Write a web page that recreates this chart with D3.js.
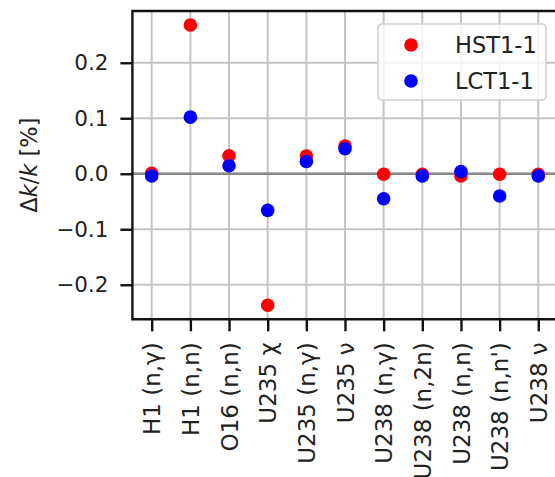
<!DOCTYPE html>
<html>
<head>
<meta charset="utf-8">
<script src="https://cdn.jsdelivr.net/npm/d3@7"></script>
<style>
	body { margin: 0; background: #fff; }
	text { font-family: 'DejaVu Sans', sans-serif; fill: #222; }
</style>
</head>
<body>
<div id="chart"></div>
<script>
/* global d3 */

var categories = [
	"H1 (n,γ)", "H1 (n,n)", "O16 (n,n)", "U235 χ", "U235 (n,γ)", "U235 ν",
	"U238 (n,γ)", "U238 (n,2n)", "U238 (n,n)", "U238 (n,n')", "U238 ν"
];

var hstValues = [0.001, 0.268, 0.0325, -0.237, 0.032, 0.050, -0.001, -0.001, -0.004, -0.001, -0.001];
var lctValues = [-0.004, 0.102, 0.0145, -0.066, 0.022, 0.045, -0.045, -0.004, 0.004, -0.040, -0.004];

var seriesNames = ["HST1-1", "LCT1-1"];
var seriesColors = ["#ff0000", "#0000ff"];

var yTicks = [-0.2, -0.1, 0.0, 0.1, 0.2];


var CHART = {};

CHART.width = 555;
CHART.height = 477;

CHART.font = {
	yTick: 21.5,
	xTick: 23,
	label: 22.5,
	legend: 22.5
};

CHART.axes = {
	left: 132.4,
	right: 557.6,
	top: 11,
	bottom: 319.3
};

CHART.svg = d3.select('#chart')
  .append('svg')
	.attr('width', CHART.width)
	.attr('height', CHART.height);

// matplotlib style 5% margins around the data
var all = hstValues.concat(lctValues);
var yMin = d3.min(all), yMax = d3.max(all);
var yPad = (yMax - yMin) * 0.05;

CHART.x = d3.scalePoint()
	.domain(categories)
	.range([CHART.axes.left, CHART.axes.right])
	.padding(0.5);

CHART.y = d3.scaleLinear()
	.domain([yMin - yPad, yMax + yPad])
	.range([CHART.axes.bottom, CHART.axes.top]);

var plot = CHART.svg.append('g');

//* GRID
plot.append('g')
	.selectAll('line.vgrid')
	.data(categories)
	.enter().append('line')
	.attr('x1', function(d){ return CHART.x(d); })
	.attr('x2', function(d){ return CHART.x(d); })
	.attr('y1', CHART.axes.top)
	.attr('y2', CHART.axes.bottom)
	.attr('stroke', '#c4c4c4')
	.attr('stroke-width', 2);

plot.append('g')
	.selectAll('line.hgrid')
	.data(yTicks)
	.enter().append('line')
	.attr('x1', CHART.axes.left)
	.attr('x2', CHART.axes.right)
	.attr('y1', function(d){ return CHART.y(d); })
	.attr('y2', function(d){ return CHART.y(d); })
	.attr('stroke', '#c4c4c4')
	.attr('stroke-width', 2);

//* ZERO LINE
plot.append('line')
	.attr('x1', CHART.axes.left)
	.attr('x2', CHART.axes.right)
	.attr('y1', CHART.y(0))
	.attr('y2', CHART.y(0))
	.attr('stroke', '#888')
	.attr('stroke-width', 2.5);

//* POINTS
[hstValues, lctValues].forEach(function(values, s){
	plot.append('g')
		.selectAll('circle')
		.data(values)
		.enter().append('circle')
		.attr('cx', function(d, i){ return CHART.x(categories[i]); })
		.attr('cy', function(d){ return CHART.y(d); })
		.attr('r', 6.8)
		.attr('fill', seriesColors[s]);
});

//* AXES
var yAxis = d3.axisLeft(CHART.y)
	.tickValues(yTicks)
	.tickSize(12)
	.tickPadding(12)
	.tickFormat(function(d){ return d3.format('.1f')(d).replace('-', '\u2212'); });

var gy = CHART.svg.append('g')
	.attr('transform', 'translate(' + CHART.axes.left + ',0)')
	.call(yAxis);

var xAxis = d3.axisBottom(CHART.x)
	.tickSize(12)
	.tickPadding(11);

var gx = CHART.svg.append('g')
	.attr('transform', 'translate(0,' + CHART.axes.bottom + ')')
	.call(xAxis);

[gx, gy].forEach(function(g){
	g.select('.domain').remove();
	g.selectAll('.tick line').attr('stroke', '#111').attr('stroke-width', 2.4);
	g.selectAll('.tick text')
		.attr('font-family', 'DejaVu Sans')
		.style('fill', '#222');
});

gy.selectAll('.tick text').attr('font-size', CHART.font.yTick);

gx.selectAll('.tick text')
	.attr('font-size', CHART.font.xTick)
	.attr('transform', 'rotate(-90)')
	.attr('x', -23)
	.attr('y', 0)
	.attr('dy', '0.35em')
	.style('text-anchor', 'end');

// spines
CHART.svg.append('path')
	.attr('d', 'M' + CHART.axes.right + ',' + CHART.axes.top +
		'H' + CHART.axes.left + 'V' + CHART.axes.bottom + 'H' + CHART.axes.right + 'V' + CHART.axes.top)
	.attr('fill', 'none')
	.attr('stroke', '#111')
	.attr('stroke-width', 2.4);

//* Y LABEL
var ylab = CHART.svg.append('text')
	.attr('transform', 'translate(37,' + ((CHART.axes.top + CHART.axes.bottom) / 2) + ') rotate(-90)')
	.attr('font-size', CHART.font.label)
	.style('text-anchor', 'middle');

ylab.append('tspan').text('Δ');
ylab.append('tspan').style('font-style', 'italic').text('k');
ylab.append('tspan').text('/');
ylab.append('tspan').style('font-style', 'italic').text('k');
ylab.append('tspan').text(' [%]');

//* LEGEND
var legend = CHART.svg.append('g')
	.attr('transform', 'translate(378,24)');

legend.append('rect')
	.attr('width', 168)
	.attr('height', 76)
	.attr('rx', 4)
	.attr('fill', '#fff')
	.attr('fill-opacity', 0.8)
	.attr('stroke', '#d0d0d0')
	.attr('stroke-width', 1.6);

seriesNames.forEach(function(name, i){

	legend.append('circle')
		.attr('cx', 33)
		.attr('cy', 21 + i * 36)
		.attr('r', 6.8)
		.attr('fill', seriesColors[i]);

	legend.append('text')
		.attr('x', 77)
		.attr('y', 21 + i * 36)
		.attr('dy', '0.36em')
		.attr('font-size', CHART.font.legend)
		.text(name);
});
</script>
</body>
</html>
